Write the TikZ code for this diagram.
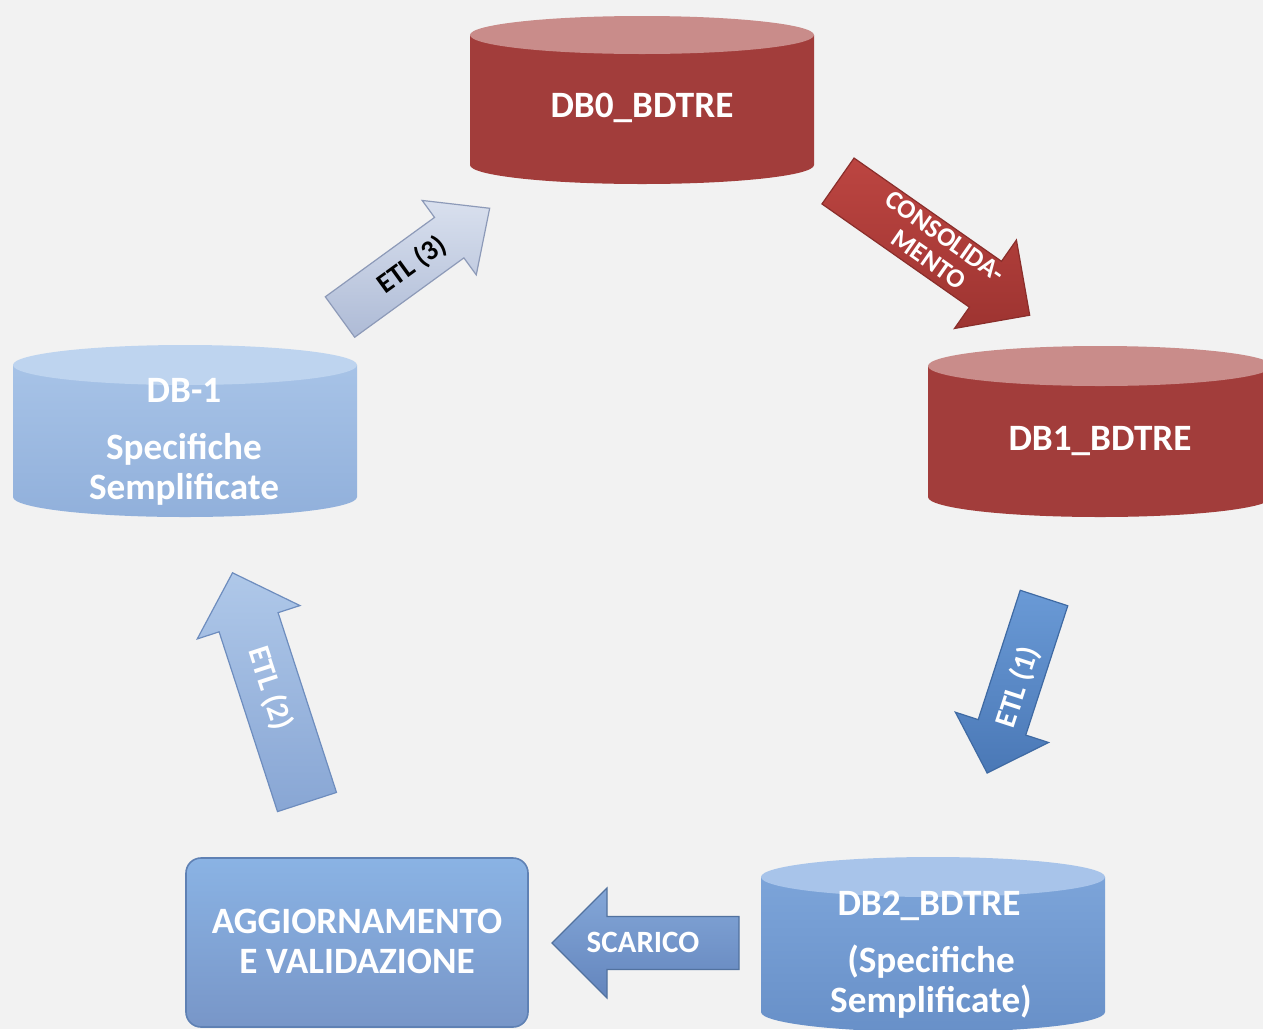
\documentclass[tikz,border=0pt]{standalone}
\usepackage{fontspec}
\setmainfont{Carlito}
\definecolor{bg}{HTML}{F2F2F2}
\definecolor{redbody}{HTML}{A23D3B}
\definecolor{redtop}{HTML}{C98C8A}
\definecolor{redarrA}{HTML}{BC4541}
\definecolor{redarrB}{HTML}{9E3431}
\definecolor{redarrE}{HTML}{8A2E2B}
\definecolor{lbA}{HTML}{A7C3E7}
\definecolor{lbB}{HTML}{91B0DB}
\definecolor{lbtop}{HTML}{BED4EF}
\definecolor{mbA}{HTML}{7CA4D9}
\definecolor{mbB}{HTML}{6890C8}
\definecolor{mbtop}{HTML}{A8C4EA}
\definecolor{boxA}{HTML}{8AB3E4}
\definecolor{boxB}{HTML}{7896C8}
\definecolor{boxE}{HTML}{5F81B4}
\definecolor{grA}{HTML}{D9E0EE}
\definecolor{grB}{HTML}{AEBBD6}
\definecolor{grE}{HTML}{8D9AB8}
\definecolor{e1A}{HTML}{6A9AD6}
\definecolor{e1B}{HTML}{4A78B6}
\definecolor{e1E}{HTML}{3F6AA3}
\definecolor{e2A}{HTML}{AFC8E9}
\definecolor{e2B}{HTML}{88A6D4}
\definecolor{e2E}{HTML}{6E8DBE}
\definecolor{scA}{HTML}{84A7D8}
\definecolor{scB}{HTML}{6385BD}
\definecolor{scE}{HTML}{52729F}
% cylinder: #1 name, #2 xc, #3 ytop, #4 ybot, #5 rx, #6 ry, #7 body style, #8 top colour
\newcommand\mycyl[8]{%
  \path[#7] ({#2-#5},#3) -- ({#2-#5},#4)
    arc[start angle=180,end angle=0,x radius=#5,y radius=#6] -- ({#2+#5},#3) -- cycle;
  \fill[#8] (#2,#3) ellipse [x radius=#5, y radius=#6];
  \coordinate (#1) at (#2,{(#3+#4)/2});
}
% block arrow: #1 name, #2 tail, #3 angle, #4 length, #5 shaft half, #6 head half, #7 head length, #8 style
\newcommand\blockarr[8]{%
  \begin{scope}[shift={#2},rotate=#3]
    \path[#8] (0,-#5) -- ({#4-#7},-#5) -- ({#4-#7},-#6) -- (#4,0)
      -- ({#4-#7},#6) -- ({#4-#7},#5) -- (0,#5) -- cycle;
    \coordinate (#1) at ({#4/2},0);
  \end{scope}%
}
\begin{document}
\begin{tikzpicture}[x=0.5pt,y=-0.5pt,
  lbl/.style={text=white,font=\bfseries\fontsize{18.6}{20}\selectfont,anchor=base,inner sep=0pt},
  albl/.style={font=\bfseries\fontsize{13.3}{14}\selectfont,inner sep=0pt,align=center},
  box/.style={draw=boxE,line width=0.8pt,rounded corners=7.5pt,top color=boxA,bottom color=boxB,
    minimum width=171pt,minimum height=84.5pt,inner sep=0pt}]
\useasboundingbox (0,0) rectangle (1263,1029);
\fill[bg] (0,0) rectangle (1263,1029);
\clip (0,0) rectangle (1263,1029);

% cylinders
\mycyl{db0}{642}{35}{165}{172}{19}{fill=redbody}{redtop}
\mycyl{db1}{1100}{366}{497}{172}{20}{fill=redbody}{redtop}
\mycyl{dbm1}{185}{365}{497}{172}{20}{top color=lbA,bottom color=lbB}{lbtop}
\mycyl{db2}{933}{877}{1012}{172}{20}{top color=mbA,bottom color=mbB}{mbtop}

% box
\node[box] (agg) at (357,942.5) {};

% arrows
\blockarr{acons}{(838,181)}{-35}{234}{28}{54}{54}{top color=redarrA,bottom color=redarrB,draw=redarrE,line width=0.6pt}
\blockarr{aetl3}{(340,317)}{36}{185}{25}{46}{50}{top color=grA,bottom color=grB,draw=grE,line width=0.6pt}
\blockarr{aetl1}{(1044,598)}{-108}{184}{25}{49}{48}{top color=e1A,bottom color=e1B,draw=e1E,line width=0.6pt}
\blockarr{aetl2}{(307,802)}{108}{241}{31}{54}{52}{top color=e2A,bottom color=e2B,draw=e2E,line width=0.6pt}
\blockarr{ascar}{(739,943)}{180}{187}{26.5}{55}{55}{top color=scA,bottom color=scB,draw=scE,line width=0.6pt}

% labels in cylinders and box
\node[lbl] (t0) at (642,117) {DB0\_BDTRE};
\node[lbl] (t1) at (1100,450) {DB1\_BDTRE};
\node[lbl] (tm1a) at (184,402) {DB-1};
\node[lbl] (tm1b) at (184,459) {Specifiche};
\node[lbl] (tm1c) at (184,499) {Semplificate};
\node[lbl] (t2a) at (929,915) {DB2\_BDTRE};
\node[lbl] (t2b) at (931,972) {(Specifiche};
\node[lbl] (t2c) at (931,1012) {Semplificate)};
\node[lbl] (tga) at (357,933) {AGGIORNAMENTO};
\node[lbl] (tgb) at (357,973) {E VALIDAZIONE};

% labels in arrows
\node[albl,text=white,rotate=-35] (lcons) at (937,248) {CONSOLIDA-\\MENTO};
\node[albl,text=black,rotate=36,font=\bfseries\fontsize{14}{16}\selectfont] (letl3) at (412,265) {ETL (3)};
\node[albl,text=white,rotate=72,font=\bfseries\fontsize{15}{17}\selectfont] (letl1) at (1018,687) {ETL (1)};
\node[albl,text=white,rotate=-72,font=\bfseries\fontsize{15.5}{17}\selectfont] (letl2) at (270,688) {ETL (2)};
\node[albl,text=white,font=\bfseries\fontsize{15.5}{17}\selectfont] (lscar) at (643,942) {SCARICO};
\end{tikzpicture}
\end{document}
